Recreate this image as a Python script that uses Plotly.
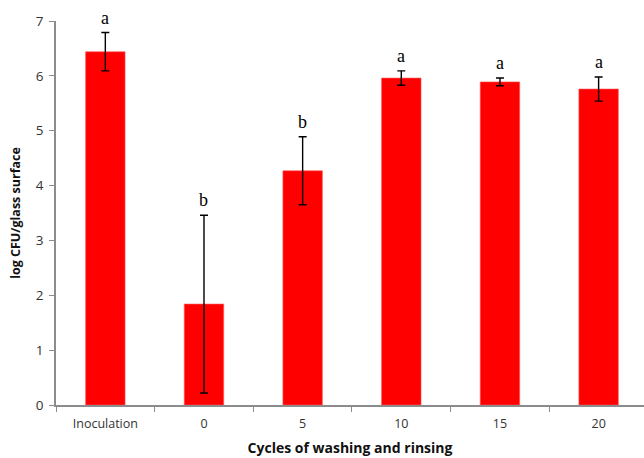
import plotly.graph_objects as go

# Bacterial counts after repeated washing/rinsing cycles
categories = ["Inoculation", "0", "5", "10", "15", "20"]
log_cfu = [6.44, 1.84, 4.27, 5.96, 5.89, 5.76]
error = [0.35, 1.62, 0.62, 0.13, 0.07, 0.22]
letters = ["a", "b", "b", "a", "a", "a"]

fig = go.Figure()
fig.add_trace(go.Bar(
    x=categories,
    y=log_cfu,
    marker=dict(color="#ff0000", line=dict(color="#ff5a5a", width=0.6)),
    error_y=dict(type="data", array=error, visible=True,
                 color="black", thickness=1.4, width=4),
    width=0.4,
    showlegend=False,
))

# Significance letters placed above each error bar (x given as category index)
for i, (v, e, lab) in enumerate(zip(log_cfu, error, letters)):
    fig.add_annotation(
        x=i, y=v + e, text=lab, showarrow=False,
        yshift=15, yanchor="middle",
        font=dict(family="Liberation Serif", size=18, color="black"),
    )

fig.update_layout(
    width=644, height=458,
    margin=dict(l=56, r=0, t=21, b=53),
    paper_bgcolor="white", plot_bgcolor="white",
    font=dict(family="Open Sans", size=12, color="#222"),
)
fig.update_xaxes(
    type="category",
    range=[-0.5, 5.46],
    showline=True, linecolor="#8c8c8c", linewidth=1.5,
    ticks="outside", tickson="boundaries", ticklen=5, tickcolor="#8c8c8c",
    ticklabelstandoff=6,
    tickfont=dict(family="Open Sans", size=12.5, color="#333"),
    title=dict(text="<b>Cycles of washing and rinsing</b>",
               font=dict(family="Open Sans", size=14, color="#111"), standoff=12),
    showgrid=False,
)
fig.update_yaxes(
    range=[0, 7], dtick=1,
    showline=True, linecolor="#8c8c8c", linewidth=1.5,
    ticks="outside", ticklen=5, tickcolor="#8c8c8c",
    ticklabelstandoff=3,
    tickfont=dict(family="Open Sans", size=13.5, color="#333"),
    title=dict(text="<b>log CFU/glass surface</b>",
               font=dict(family="Open Sans", size=12.5, color="#111"), standoff=12),
    showgrid=False, zeroline=False,
)

fig.write_html("out.html")
